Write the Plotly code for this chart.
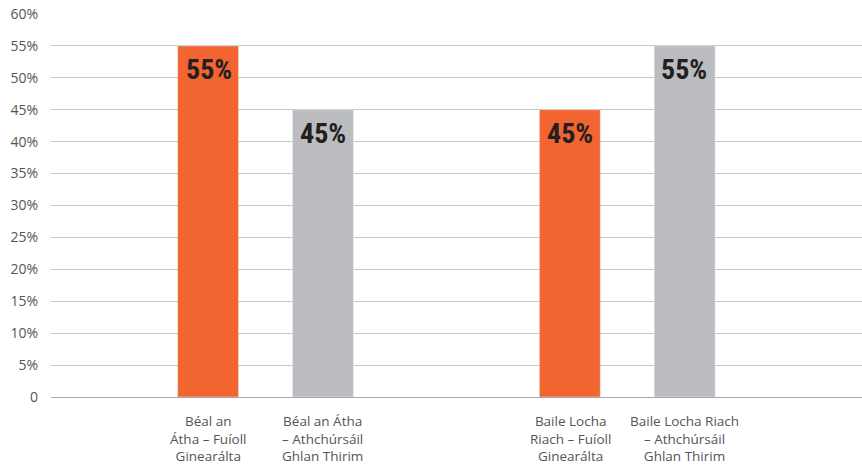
import plotly.graph_objects as go

groups = ["Béal an Átha", "Baile Locha Riach"]
fuioll = [55, 45]
athchursail = [45, 55]
labels_fuioll = ["Béal an<br>Átha – Fuíoll<br>Ginearálta", "Baile Locha<br>Riach – Fuíoll<br>Ginearálta"]
labels_athch = ["Béal an Átha<br>– Athchúrsáil<br>Ghlan Thirim", "Baile Locha Riach<br>– Athchúrsáil<br>Ghlan Thirim"]
y_ticks = [0, 5, 10, 15, 20, 25, 30, 35, 40, 45, 50, 55, 60]
y_ticktext = ["0"] + [f"{v}%" for v in y_ticks[1:]]

ORANGE = "#F26430"
GREY = "#BBBCBF"
VALFONT = dict(family="Roboto Condensed, Liberation Sans Narrow, sans-serif",
               size=28, color="#231F20", weight="bold")
LABFONT = dict(family="Open Sans, Noto Sans, sans-serif", size=13.5, color="#555555")
HALF = 57  # half the distance between bars of a group, in px

fig = go.Figure()
fig.add_bar(x=groups, y=fuioll, marker_color=ORANGE, name="Fuíoll Ginearálta")
fig.add_bar(x=groups, y=athchursail, marker_color=GREY, name="Athchúrsáil Ghlan Thirim")

for g, vf, va, lf, la in zip(groups, fuioll, athchursail, labels_fuioll, labels_athch):
    fig.add_annotation(x=g, y=vf, text=f"{vf}%", showarrow=False, xshift=-HALF,
                       yshift=-5, yanchor="top", font=VALFONT)
    fig.add_annotation(x=g, y=va, text=f"{va}%", showarrow=False, xshift=HALF,
                       yshift=-5, yanchor="top", font=VALFONT)
    fig.add_annotation(x=g, y=0, text=lf, showarrow=False, xshift=-HALF,
                       yshift=-13, yanchor="top", align="center", font=LABFONT)
    fig.add_annotation(x=g, y=0, text=la, showarrow=False, xshift=HALF,
                       yshift=-13, yanchor="top", align="center", font=LABFONT)

fig.update_layout(
    width=862, height=466,
    margin=dict(l=51, r=0, t=14, b=69),
    paper_bgcolor="white", plot_bgcolor="white",
    barmode="group", bargap=0.365, bargroupgap=0.47,
    showlegend=False,
)
fig.update_xaxes(type="category", range=[-0.593, 1.649], showticklabels=False,
                 showgrid=False, zeroline=False, showline=False, fixedrange=True)
fig.update_yaxes(range=[0, 60], tickvals=y_ticks, ticktext=y_ticktext,
                 showgrid=True, gridcolor="#C6C6C6", gridwidth=1,
                 zeroline=True, zerolinecolor="#A8A8A8", zerolinewidth=1,
                 showline=False, ticks="", ticklabelstandoff=12,
                 tickfont=dict(family="Open Sans, Noto Sans, sans-serif", size=14, color="#555555"))

fig.write_html("out.html", config={"displayModeBar": False})
with open("out.html", encoding="utf-8") as f:
    html = f.read()
html = html.replace("<body>", '<body style="margin:0;padding:0;overflow:hidden">', 1)
with open("out.html", "w", encoding="utf-8") as f:
    f.write(html)
